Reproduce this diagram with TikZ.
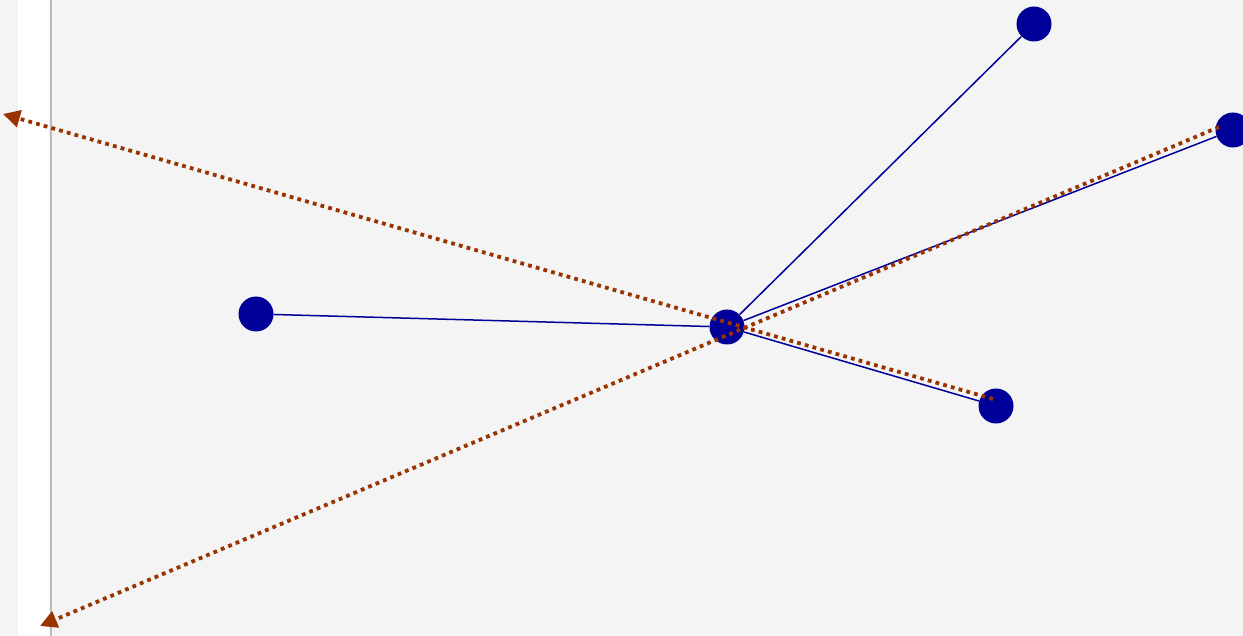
\documentclass[tikz,border=0pt]{standalone}
\usetikzlibrary{arrows.meta}
\definecolor{bg}{HTML}{F4F4F4}
\definecolor{nodeblue}{HTML}{000099}
\definecolor{rust}{HTML}{993300}
\definecolor{axisgray}{HTML}{BBBBBB}
\tikzset{
  dot/.style={circle,fill=nodeblue,draw=none,minimum size=35pt,inner sep=0pt},
  link/.style={draw=nodeblue,line width=1.5pt},
  ray/.style={draw=rust,line width=3.8pt,dash pattern=on 3.8pt off 4.2pt,-{Triangle[length=17pt,width=17pt]}}
}
\begin{document}
\begin{tikzpicture}[x=1pt,y=-1pt]
\useasboundingbox (0,0) rectangle (1243,636);
\fill[bg] (0,0) rectangle (1243,636);
\fill[white] (18,0) rectangle (49,636);
\draw[axisgray,line width=2pt] (50.5,0) -- (50.5,636);
\node[dot] (c) at (727,327) {};
\node[dot] (a) at (256,314) {};
\node[dot] (b) at (1034,24) {};
\node[dot] (d) at (1233,130) {};
\node[dot] (e) at (996,406) {};
\draw[link] (a) -- (c);
\draw[link] (c) -- (b);
\draw[link] (c) -- (d);
\draw[link] (c) -- (e);
\coordinate (s1) at (993,399);
\coordinate (t1) at (3,114);
\coordinate (s2) at (1219,127);
\coordinate (t2) at (40,626);
\draw[ray] (s1) -- (t1);
\draw[ray] (s2) -- (t2);
\end{tikzpicture}
\end{document}
